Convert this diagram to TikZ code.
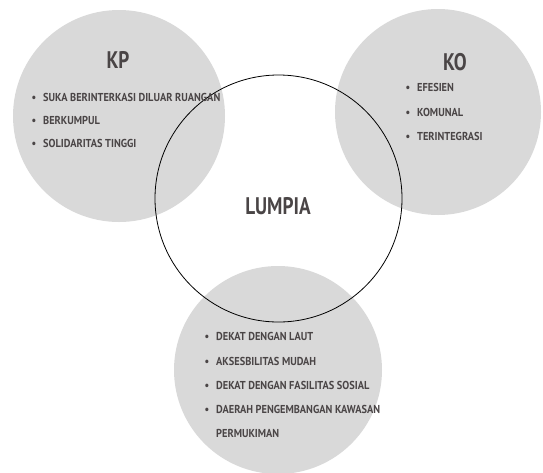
\documentclass[tikz,border=0pt]{standalone}
\usepackage{fontspec}
\setmainfont{PT Sans}[FakeStretch=0.8]
\newfontfamily\itemfont{PT Sans}[FakeStretch=0.9]
\usetikzlibrary{positioning}
\definecolor{bubblegray}{HTML}{D9D9D9}
\definecolor{inkgray}{HTML}{4A4546}
\tikzset{
	bubble/.style={circle, fill=bubblegray, inner sep=0pt},
	head/.style={text=inkgray, inner sep=0pt, font=\bfseries\fontsize{24}{24}\selectfont},
	item/.style={anchor=west, text=inkgray, inner sep=0pt, font=\itemfont\bfseries\fontsize{11.5}{11.5}\selectfont},
}
\newcommand{\bul}{\makebox[11.5pt][l]{\textbullet}}

\begin{document}
\begin{tikzpicture}[x=1pt,y=-1pt]
		\useasboundingbox (0,0) rectangle (543,472);
		% the three groups
		\node[bubble, minimum size=212] (kp) at (119,116) {};
		\node[bubble, minimum size=206] (ko) at (438,112) {};
		\node[bubble, minimum size=208] (lok) at (278,370) {};
		% the middle one
		\node[draw, circle, line width=0.8pt, minimum size=247] (lumpia) at (278.5,198.5) {};
		\node[head] (lumpiatxt) at (278,206) {LUMPIA};
		\node[head] (kptxt) at (118,60) {KP};
		\node[head] (kotxt) at (455,62) {KO};
		\foreach \txt/\y [count=\i] in {SUKA BERINTERKASI DILUAR RUANGAN/97, BERKUMPUL/120, SOLIDARITAS TINGGI/143.5}{
			\node[item] (kp-\i) at (31.5,\y) {\bul\txt};
		}
		\foreach \txt/\y [count=\i] in {EFESIEN/87.5, KOMUNAL/112, TERINTEGRASI/136}{
			\node[item] (ko-\i) at (405.5,\y) {\bul\txt};
		}
		\foreach \txt/\y [count=\i] in {DEKAT DENGAN LAUT/336, AKSESBILITAS MUDAH/361, DEKAT DENGAN FASILITAS SOSIAL/385}{
			\node[item] (lok-\i) at (204.5,\y) {\bul\txt};
		}
		\node[item] (lok-4) at (204.5,409) {\bul\makebox[164pt][s]{DAERAH PENGEMBANGAN KAWASAN}};
		\node[item] (lok-5) at (216,433) {PERMUKIMAN};
	\end{tikzpicture}
\end{document}
